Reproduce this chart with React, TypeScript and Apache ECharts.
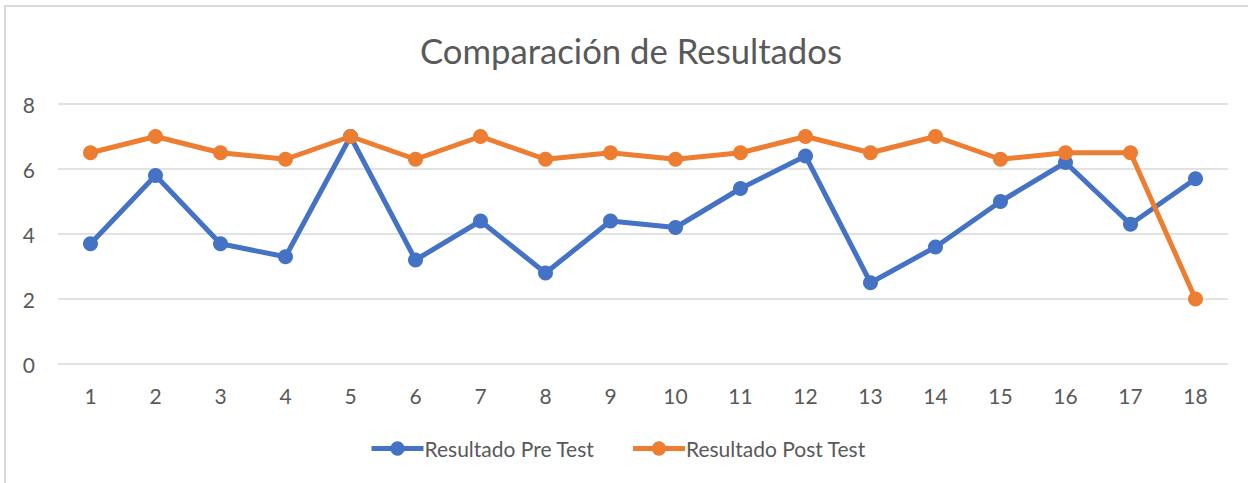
import React, { useEffect, useRef } from "react";
import * as echarts from "echarts";

const categories = ["1", "2", "3", "4", "5", "6", "7", "8", "9", "10", "11", "12", "13", "14", "15", "16", "17", "18"];
const preTest = [3.7, 5.8, 3.7, 3.3, 7, 3.2, 4.4, 2.8, 4.4, 4.2, 5.4, 6.4, 2.5, 3.6, 5, 6.2, 4.3, 5.7];
const postTest = [6.5, 7, 6.5, 6.3, 7, 6.3, 7, 6.3, 6.5, 6.3, 6.5, 7, 6.5, 7, 6.3, 6.5, 6.5, 2];
const seriesNames = ["Resultado Pre Test", "Resultado Post Test"];
const titleText = "Comparación de Resultados";

const FONT = "Lato, 'Open Sans', sans-serif";
const TEXT = "#595959";

export default function App() {
  const ref = useRef<HTMLDivElement>(null);
  useEffect(() => {
    if (!ref.current) return;
    const chart = echarts.init(ref.current, null, { renderer: "svg" });
    chart.setOption({
      animation: false,
      backgroundColor: "#ffffff",
      textStyle: { fontFamily: FONT },
      title: {
        text: titleText,
        left: 626,
        top: 28,
        textAlign: "center",
        textStyle: { fontFamily: FONT, fontSize: 34.7, fontWeight: "normal", color: TEXT },
      },
      legend: {
        data: seriesNames,
        left: 364,
        top: 433,
        itemWidth: 52,
        itemHeight: 18,
        itemGap: 36,
        lineStyle: { width: 5 },
        textStyle: { fontFamily: FONT, fontSize: 21, color: TEXT, padding: [0, 0, 0, -4] },
      },
      graphic: [
        {
          type: "rect",
          shape: { x: 5, y: 6, width: 1260, height: 520 },
          style: { fill: "none", stroke: "#d9d9d9", lineWidth: 2 },
          silent: true,
        },
      ],
      grid: { left: 58, right: 20, top: 104, bottom: 119, containLabel: false },
      xAxis: {
        type: "category",
        data: categories,
        boundaryGap: true,
        axisLine: { show: false },
        axisTick: { show: false },
        axisLabel: { fontFamily: FONT, fontSize: 21, color: TEXT, margin: 21 },
        splitLine: { show: false },
      },
      yAxis: {
        type: "value",
        min: 0,
        max: 8,
        interval: 2,
        axisLine: { show: false },
        axisTick: { show: false },
        axisLabel: { fontFamily: FONT, fontSize: 21, color: TEXT, margin: 23 },
        splitLine: { lineStyle: { color: "#d9d9d9", width: 1.5 } },
      },
      series: [
        {
          name: seriesNames[0],
          type: "line",
          data: preTest,
          symbol: "circle",
          symbolSize: 15,
          lineStyle: { width: 5, color: "#4472C4" },
          itemStyle: { color: "#4472C4" },
        },
        {
          name: seriesNames[1],
          type: "line",
          data: postTest,
          symbol: "circle",
          symbolSize: 15,
          lineStyle: { width: 5, color: "#ED7D31" },
          itemStyle: { color: "#ED7D31" },
        },
      ],
    });
    return () => chart.dispose();
  }, []);
  return (
    <div
      ref={ref}
      style={{ position: "fixed", left: 0, top: 0, width: 1248, height: 483, background: "#fff" }}
    />
  );
}
